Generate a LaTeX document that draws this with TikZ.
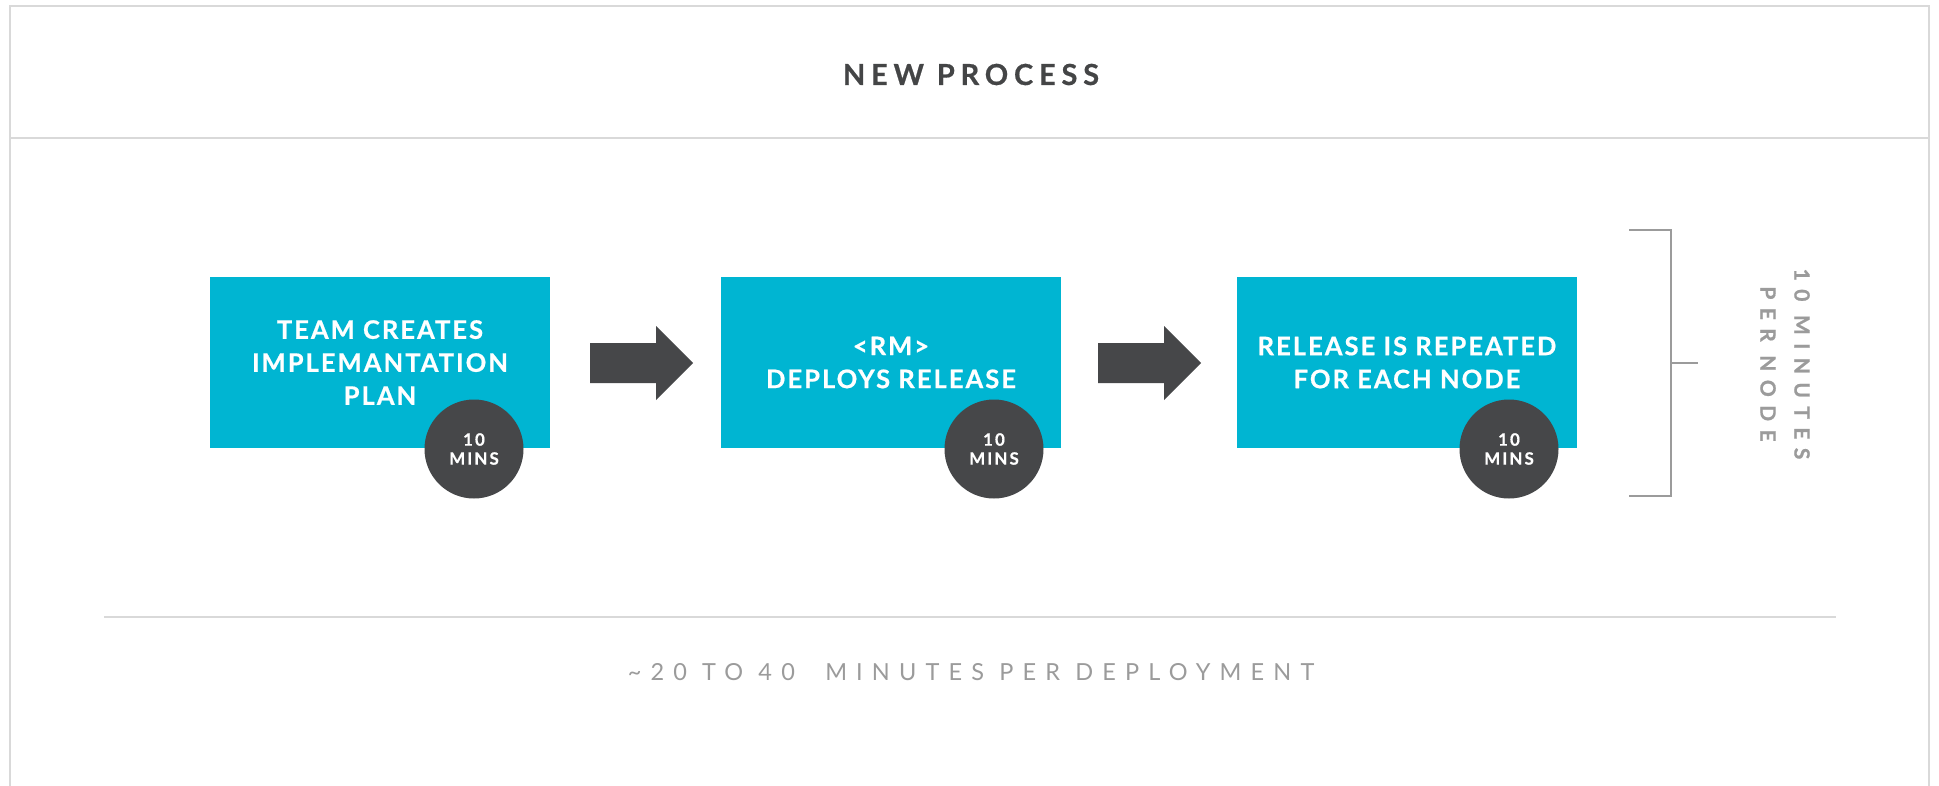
\documentclass[tikz,border=0pt]{standalone}
\usepackage{fontspec}
\setmainfont{Lato}
\newfontfamily\titlefont{Lato}[LetterSpace=20,FakeBold=0.6]
\newfontfamily\boxfont{Lato}[LetterSpace=8,FakeBold=0.7]
\newfontfamily\circfont{Lato}[LetterSpace=12,FakeBold=0.6]
\newfontfamily\sidefont{Lato}[LetterSpace=40,FakeBold=0.8]
\newfontfamily\footfont{Lato}[LetterSpace=39]
\definecolor{framegray}{HTML}{D9D9D9}
\definecolor{boxcyan}{HTML}{00B5D2}
\definecolor{darkgray}{HTML}{464749}
\definecolor{midgray}{HTML}{9B9B9B}
\definecolor{titlegray}{HTML}{444546}
\tikzset{
  stepbox/.style={fill=boxcyan, minimum width=340pt, minimum height=171pt, inner sep=0pt,
    align=center, text=white, font=\boxfont\bfseries\fontsize{25.5}{33}\selectfont},
  timebadge/.style={circle, fill=darkgray, minimum size=99pt, inner sep=0pt,
    align=center, text=white, font=\circfont\bfseries\fontsize{17}{19}\selectfont},
  blockarrow/.style={fill=darkgray},
  frameline/.style={draw=framegray, line width=2pt},
  bracketline/.style={draw=midgray, line width=2pt},
}
\begin{document}
\begin{tikzpicture}[x=1pt,y=-1pt]
\useasboundingbox (0,0) rectangle (1939,785);
\fill[white] (0,0) rectangle (1939,785);
% frame
\draw[frameline] (10,790) -- (10,6) -- (1929,6) -- (1929,790);
\draw[frameline] (10,138) -- (1929,138);
\node[text=titlegray, font=\titlefont\bfseries\fontsize{29}{33}\selectfont] (title) at (971,74.5) {NEW PROCESS};
% boxes
\node[stepbox] (b1) at (380,362.5) {TEAM CREATES\\IMPLEMANTATION\\PLAN};
\node[stepbox] (b2) at (891,362.5) {<RM>\\DEPLOYS RELEASE};
\node[stepbox] (b3) at (1407,362.5) {RELEASE IS REPEATED\\FOR EACH NODE};
% badges
\node[timebadge] (c1) at (474,449) {10\\MINS};
\node[timebadge] (c2) at (994,449) {10\\MINS};
\node[timebadge] (c3) at (1509,449) {10\\MINS};
% arrows
\fill[blockarrow] (590,343) -- (656,343) -- (656,326) -- (693,363) -- (656,400) -- (656,383) -- (590,383) -- cycle;
\fill[blockarrow] (1098,343) -- (1164,343) -- (1164,326) -- (1201,363) -- (1164,400) -- (1164,383) -- (1098,383) -- cycle;
% bracket
\coordinate (bt) at (1671,230);
\coordinate (bb) at (1671,496);
\draw[bracketline] (1629,230) -- (bt) -- (bb) -- (1629,496);
\draw[bracketline] (1671,363) -- (1698,363);
\node[rotate=-90, align=center, text=midgray, font=\sidefont\bfseries\fontsize{21}{34}\selectfont] (side) at (1785,364) {10 MINUTES\\PER NODE};
% bottom
\draw[frameline] (104,617) -- (1836,617);
\node[text=midgray, font=\footfont\fontsize{23.5}{28}\selectfont] (foot) at (971,672) {\textasciitilde 20 TO 40\ \ MINUTES PER DEPLOYMENT};
\end{tikzpicture}
\end{document}
